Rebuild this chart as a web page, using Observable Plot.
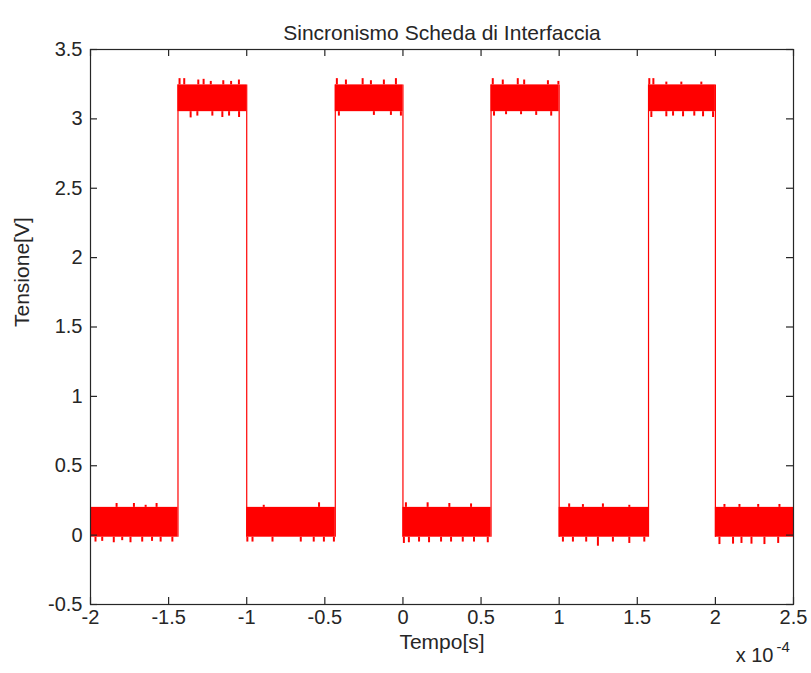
<!DOCTYPE html>
<html><head><meta charset="utf-8">
<script src="https://cdn.jsdelivr.net/npm/d3@7"></script>
<script src="https://cdn.jsdelivr.net/npm/@observablehq/plot@0.6"></script>
<style>body{margin:0;background:#fff}</style>
</head><body><div id="chart"></div>
<script>
const title = "Sincronismo Scheda di Interfaccia";
const xLabel = "Tempo[s]";
const yLabel = "Tensione[V]";
const xExponent = "-4";
const xTicks = [-2, -1.5, -1, -0.5, 0, 0.5, 1, 1.5, 2, 2.5];
const yTicks = [-0.5, 0, 0.5, 1, 1.5, 2, 2.5, 3, 3.5];
// switching instants (x 1e-4 s), alternating rising / falling
const edgeTimes = [-1.44, -1.0, -0.433, 0.0, 0.564, 1.0, 1.572, 2.0];
// dense noise band of each level [bottom, top] (V)
const lowBand = [-0.015, 0.200];
const highBand = [3.052, 3.245];
// noise peaks poking out of the dense band (time x 1e-4 s, tip value V)
const spikeT = [
  -1.833, -1.722, -1.647, -1.577, -1.968, -1.925, -1.851, -1.797, -1.744, -1.669, -1.606, -1.551, -1.476,
  -1.43, -1.40, -1.31, -1.276, -1.23, -1.15, -1.10, -1.05, -1.359, -1.316, -1.22, -1.156, -1.113, -1.049,
  -0.537, -0.891, -0.996, -0.963, -0.835, -0.654, -0.571, -0.506, -0.442,
  -0.423, -0.365, -0.258, -0.205, -0.122, -0.045, -0.41, -0.186, -0.077, -0.013,
  0.019, 0.158, 0.297, 0.436, 0.006, 0.038, 0.103, 0.167, 0.244, 0.308, 0.383, 0.455, 0.543,
  0.575, 0.639, 0.735, 0.776, 0.928, 0.995, 0.583, 0.660, 0.756, 0.853, 0.949,
  1.064, 1.152, 1.28, 1.449, 1.024, 1.088, 1.173, 1.248, 1.344, 1.449, 1.545,
  1.577, 1.603, 1.686, 1.782, 1.91, 1.59, 1.686, 1.729, 1.793, 1.865, 1.921, 1.985,
  2.058, 2.154, 2.274, 2.41, 2.026, 2.113, 2.167, 2.231, 2.314, 2.402
];
const spikeV = [
  0.228, 0.228, 0.215, 0.228, -0.05, -0.045, -0.055, -0.04, -0.055, -0.05, -0.045, -0.05, -0.05,
  3.29, 3.29, 3.28, 3.285, 3.27, 3.275, 3.27, 3.28, 3.007, 3.02, 3.02, 3.01, 3.02, 3.01,
  0.233, 0.215, -0.05, -0.05, -0.05, -0.05, -0.05, -0.05, -0.05,
  3.29, 3.28, 3.29, 3.275, 3.28, 3.29, 3.02, 3.025, 3.025, 3.02,
  0.233, 0.233, 0.228, 0.225, -0.06, -0.055, -0.05, -0.055, -0.05, -0.05, -0.05, -0.05, -0.055,
  3.29, 3.28, 3.29, 3.28, 3.275, 3.27, 3.02, 3.03, 3.03, 3.025, 3.02,
  0.225, 0.22, 0.225, 0.215, -0.05, -0.05, -0.05, -0.08, -0.05, -0.06, -0.05,
  3.29, 3.29, 3.265, 3.265, 3.265, 3.01, 3.015, 3.02, 3.015, 3.02, 3.015, 3.01,
  0.221, 0.221, 0.221, 0.221, -0.068, -0.065, -0.06, -0.065, -0.068, -0.06
];

const xDomain = [xTicks[0], xTicks[xTicks.length - 1]];
const yDomain = [yTicks[0], yTicks[yTicks.length - 1]];
const bounds = [xDomain[0], ...edgeTimes, xDomain[1]];
const segments = bounds.slice(0, -1).map((t0, i) => {
  const band = i % 2 === 0 ? lowBand : highBand;
  return {t0, t1: bounds[i + 1], lo: band[0], hi: band[1]};
});
const spikes = spikeT.map((t, i) => {
  const v = spikeV[i];
  const band = v > 1.5 ? highBand : lowBand;
  const base = v > (band[0] + band[1]) / 2 ? band[1] : band[0];
  return {t, v, base};
});

const W = 811, H = 673, mL = 90, mR = 18, mT = 49, mB = 69;
const fw = W - mL - mR, fh = H - mT - mB;
const ink = "#262626";
const red = "#ff0000";
const fmt = d => String(d);

const chart = Plot.plot({
  width: W, height: H,
  marginLeft: mL, marginRight: mR, marginTop: mT, marginBottom: mB,
  style: {fontFamily: "'Liberation Sans', Arial, sans-serif", fontSize: "20px", color: ink, background: "#fff"},
  x: {domain: xDomain, axis: null},
  y: {domain: yDomain, axis: null},
  marks: [
    Plot.rect(segments, {x1: "t0", x2: "t1", y1: "lo", y2: "hi", fill: red}),
    Plot.ruleX(spikes, {x: "t", y1: "base", y2: "v", stroke: red, strokeWidth: 2}),
    Plot.ruleX(edgeTimes, {x: d => d, y1: lowBand[0], y2: highBand[1], stroke: red, strokeWidth: 1.2}),
    Plot.frame({stroke: ink, strokeWidth: 1.2}),
    Plot.tickX(xTicks, {x: d => d, insetTop: fh - 7, stroke: ink, strokeWidth: 1.2}),
    Plot.tickX(xTicks, {x: d => d, insetBottom: fh - 7, stroke: ink, strokeWidth: 1.2}),
    Plot.tickY(yTicks, {y: d => d, insetRight: fw - 7, stroke: ink, strokeWidth: 1.2}),
    Plot.tickY(yTicks, {y: d => d, insetLeft: fw - 7, stroke: ink, strokeWidth: 1.2}),
    Plot.text(xTicks, {x: d => d, text: fmt, frameAnchor: "bottom", dy: 19, fontSize: 20, fill: ink}),
    Plot.text(yTicks, {y: d => d, text: fmt, frameAnchor: "left", textAnchor: "end", dx: -8, fontSize: 20, fill: ink}),
    Plot.text([title], {frameAnchor: "top", dy: -24, fontSize: 21, fill: ink}),
    Plot.text([xLabel], {frameAnchor: "bottom", dy: 44, fontSize: 21, fill: ink}),
    Plot.text([yLabel], {frameAnchor: "left", dx: -68, rotate: -90, fontSize: 21, fill: ink}),
    Plot.text(["x 10"], {frameAnchor: "bottom-right", textAnchor: "end", dx: -20, dy: 57, fontSize: 20, fill: ink}),
    Plot.text([xExponent], {frameAnchor: "bottom-right", textAnchor: "start", dx: -17, dy: 47, fontSize: 15, fill: ink})
  ]
});
document.getElementById("chart").appendChild(chart);
</script>
</body></html>
